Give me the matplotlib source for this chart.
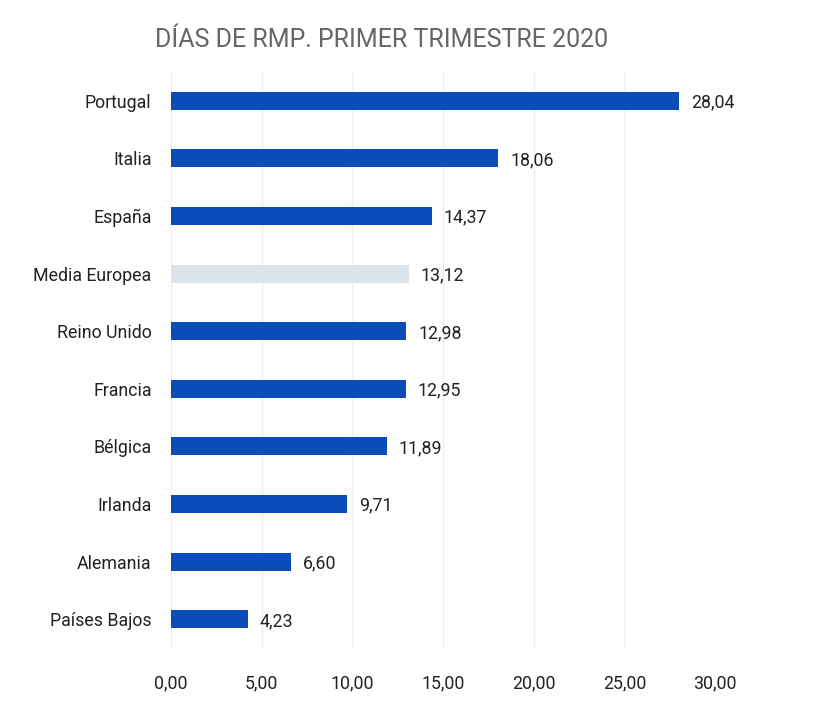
import numpy as np
import matplotlib.pyplot as plt

#%% data

paises = ['Portugal', 'Italia', 'España', 'Media Europea', 'Reino Unido',
          'Francia', 'Bélgica', 'Irlanda', 'Alemania', 'Países Bajos']
dias = [28.04, 18.06, 14.37, 13.12, 12.98, 12.95, 11.89, 9.71, 6.60, 4.23]
ticks = [0, 5, 10, 15, 20, 25, 30]

azul = '#0C4CB8'
gris = '#DCE3EB'

#%% plot

plt.rcParams['font.family'] = ['Roboto', 'DejaVu Sans']

fig = plt.figure(figsize=(8.16, 7.22), dpi=100)
ax = fig.add_axes([0.2096, 0.1025, 0.6666, 0.7978])

y = np.arange(len(paises))
colores = [gris if p == 'Media Europea' else azul for p in paises]
ax.barh(y, dias, height=0.31, color=colores, zorder=3)

for yi, v in zip(y, dias):
    ax.text(v + 0.65, yi + 0.03, f'{v:.2f}'.replace('.', ','), va='center', ha='left',
            fontsize=12.8, color='#222222', clip_on=False)

ax.set_yticks(y)
ax.set_yticklabels(paises, fontsize=12.8, color='#222222')
ax.set_ylim(len(paises) - 0.5, -0.5)
ax.set_xlim(0, 30)
ax.set_xticks(ticks)
ax.set_xticklabels([f'{t:.2f}'.replace('.', ',') for t in ticks], fontsize=12.8, color='#222222')
ax.tick_params(axis='y', length=0, pad=14)
ax.tick_params(axis='x', length=0, pad=19)
ax.grid(axis='x', color='#EEEEEE', linewidth=1, zorder=0)
for s in ax.spines.values():
    s.set_visible(False)

fig.text(0.467, 0.945, 'DÍAS DE RMP. PRIMER TRIMESTRE 2020', ha='center', va='center',
         fontsize=18, color='#666666')

plt.savefig('out.png', dpi=100)
